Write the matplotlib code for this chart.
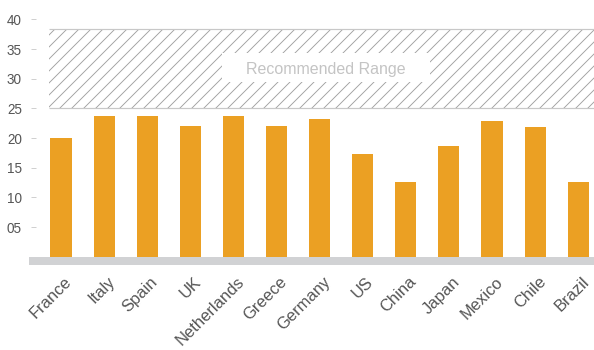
import matplotlib
matplotlib.use("Agg")
import matplotlib.pyplot as plt
from matplotlib.patches import Rectangle
from matplotlib.transforms import ScaledTranslation

countries = ["France", "Italy", "Spain", "UK", "Netherlands", "Greece", "Germany",
             "US", "China", "Japan", "Mexico", "Chile", "Brazil"]
values = [20.0, 23.7, 23.7, 22.0, 23.7, 22.0, 23.2, 17.3, 12.6, 18.7, 22.9, 21.9, 12.6]
range_low, range_high = 25, 38.3
range_label = "Recommended Range"
yticks = [5, 10, 15, 20, 25, 30, 35, 40]
ytick_labels = ["05", "10", "15", "20", "25", "30", "35", "40"]

DPI = 72
plt.rcParams['font.family'] = ['Liberation Sans', 'DejaVu Sans']
plt.rcParams['hatch.linewidth'] = 0.9

fig = plt.figure(figsize=(594 / DPI, 350 / DPI), dpi=DPI)
ax = fig.add_axes([29 / 594, 85 / 350, 565 / 594, (265 - 10.5) / 350])

x = list(range(len(countries)))
ax.bar(x, values, width=0.49, color="#eba023", zorder=3)

xmin, xmax = -0.7425, 12.367
ax.set_xlim(xmin, xmax)
ax.set_ylim(-1.4, 41.5)

# baseline band
ax.axhspan(-1.4, 0, color="#d1d2d4", zorder=2, lw=0)

# recommended range hatched area
hx0 = -0.278
ax.fill_between([hx0, xmax], range_low, range_high, facecolor="none",
                edgecolor="#a0a0a0", hatch="//", linewidth=0, zorder=1)
ax.hlines([range_low, range_high], hx0, xmax, color="#c8c8c8", lw=1.2, zorder=2)
ax.add_patch(Rectangle((3.74, 29.45), 4.82, 4.88, facecolor="white",
                       edgecolor="none", zorder=3))
ax.text(6.15, 31.6, range_label, ha="center", va="center", fontsize=16,
        color="#c4c4c4", zorder=4)

for s in ax.spines.values():
    s.set_visible(False)
ax.spines['left'].set_position(('outward', -2))

ax.set_yticks(yticks)
ax.set_yticklabels(ytick_labels)
ax.tick_params(axis='y', direction='in', length=5, width=1, color="#d0d0d0",
               pad=9, labelsize=13.5, labelcolor="#555555")

ax.set_xticks(x)
ax.set_xticklabels(countries, rotation=45, ha="right", rotation_mode="anchor")
ax.tick_params(axis='x', length=0, pad=9, labelsize=16.5, labelcolor="#555555")
offset = ScaledTranslation(3 / DPI, 0, fig.dpi_scale_trans)
for lab in ax.get_xticklabels():
    lab.set_transform(lab.get_transform() + offset)

fig.savefig("out.png", dpi=DPI)
